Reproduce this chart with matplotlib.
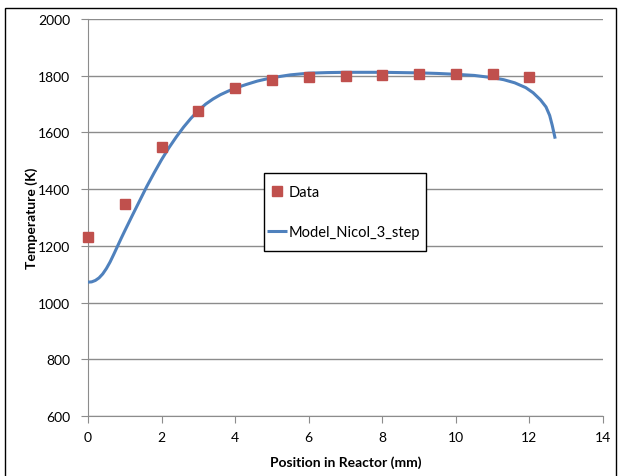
import matplotlib
matplotlib.use('Agg')
import matplotlib.pyplot as plt
from matplotlib.patches import Rectangle

plt.rcParams['font.family'] = ['Lato', 'DejaVu Sans']

# measured data
data_x = [0, 1, 2, 3, 4, 5, 6, 7, 8, 9, 10, 11, 12]
data_T = [1232, 1347, 1548, 1675, 1756, 1786, 1794, 1800, 1802, 1805, 1806, 1807, 1795]

# model curve (Model_Nicol_3_step)
model_x = [0, 0.1, 0.2, 0.3, 0.4, 0.5, 0.6, 0.7, 0.8, 0.9, 1.0, 1.2, 1.4, 1.6,
           1.8, 2.0, 2.2, 2.4, 2.6, 2.8, 3.0, 3.2, 3.4, 3.6, 3.8, 4.0, 4.3, 4.6,
           5.0, 5.5, 6.0, 6.5, 7.0, 8.0, 9.0, 9.5, 10.0, 10.5, 11.0, 11.3, 11.6,
           11.9, 12.1, 12.3, 12.45, 12.55, 12.62, 12.68, 12.7]
model_T = [1072, 1073, 1078, 1087, 1101, 1120, 1143, 1170, 1198, 1226, 1253,
           1306, 1358, 1410, 1458, 1504, 1546, 1584, 1619, 1650, 1677, 1700,
           1718, 1733, 1745, 1756, 1769, 1781, 1793, 1803, 1809, 1811, 1812,
           1812, 1810, 1808, 1805, 1801, 1793, 1786, 1775, 1758, 1740, 1715,
           1690, 1660, 1625, 1590, 1578]

fig = plt.figure(figsize=(6.18, 4.77), dpi=100)
ax = fig.add_axes([88/618, 1 - 417/477, 515/618, 397/477])

# outer chart border
fig.patches.append(Rectangle((5/618, -0.02), 611/618, 1.02 - 9/477,
                             transform=fig.transFigure, fill=False,
                             edgecolor='black', linewidth=1.0))

ax.plot(model_x, model_T, color='#4F81BD', linewidth=2.2,
        label='Model_Nicol_3_step', zorder=3, solid_capstyle='butt')
ax.plot(data_x, data_T, linestyle='none', marker='s', markersize=7.5,
        color='#C0504D', label='Data', zorder=4, clip_on=False)

ax.set_xlim(0, 14)
ax.set_ylim(600, 2000)
ax.set_xticks(range(0, 15, 2))
ax.set_yticks(range(600, 2001, 200))
ax.grid(axis='y', color='#8C8C8C', linewidth=1.0)
ax.set_axisbelow(True)

for s in ['top', 'right']:
    ax.spines[s].set_visible(False)
for s in ['left', 'bottom']:
    ax.spines[s].set_color('#8C8C8C')
ax.tick_params(axis='both', colors='#8C8C8C', labelcolor='black', labelsize=10,
               direction='out', length=5)
ax.tick_params(axis='y', pad=8)
ax.tick_params(axis='x', pad=6)

ax.set_xlabel('Position in Reactor (mm)', fontweight='bold', fontsize=10, labelpad=9)
ax.set_ylabel('Temperature (K)', fontweight='bold', fontsize=10, labelpad=0)

# legend box drawn by hand, legend entries inside
ax.add_patch(Rectangle((0.342, 0.416), 0.314, 0.196, transform=ax.transAxes,
                       fill=True, facecolor='white', edgecolor='black',
                       linewidth=1.0, zorder=5))
handles, labels = ax.get_legend_handles_labels()
leg = ax.legend(handles[::-1], labels[::-1], loc='center left',
                bbox_to_anchor=(0.342, 0.514), borderaxespad=0,
                fontsize=10.5, frameon=False,
                labelspacing=1.75, handlelength=1.4, handletextpad=0.05,
                borderpad=0.2)
leg.set_zorder(6)

fig.savefig('out.png', dpi=100)
